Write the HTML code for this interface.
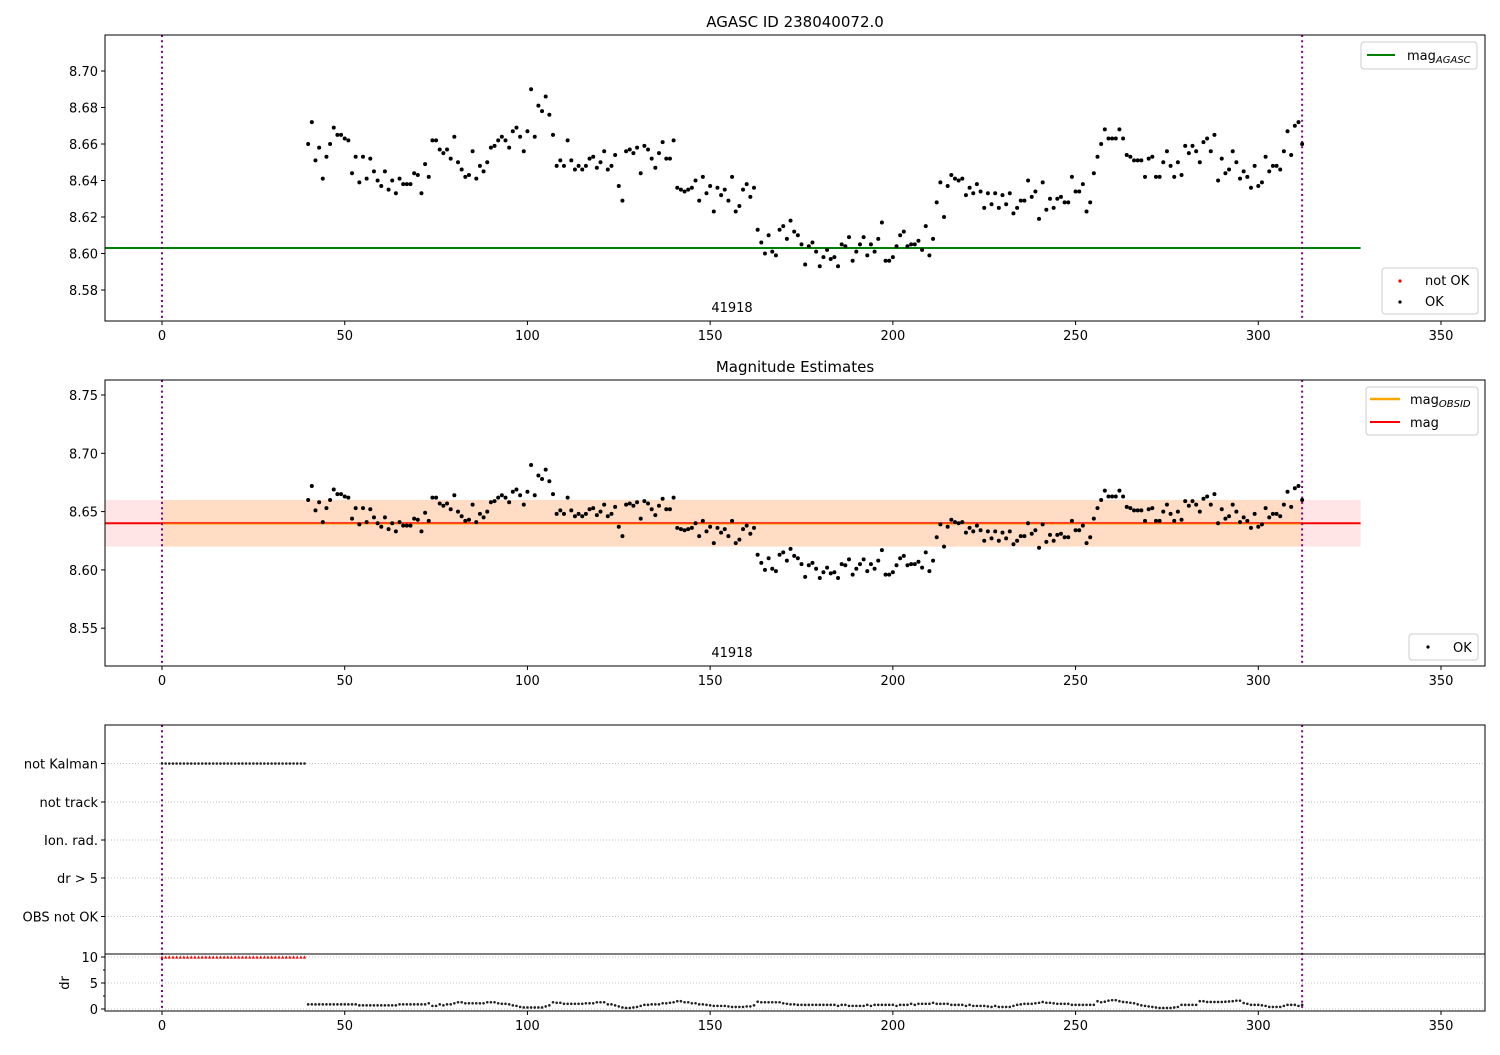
<!DOCTYPE html>
<html><head><meta charset="utf-8"><style>
body{margin:0;background:#fff;}
svg{font-family:"DejaVu Sans","Liberation Sans",sans-serif;}
</style></head><body>
<svg id="c" width="1500" height="1050" xmlns="http://www.w3.org/2000/svg"></svg>
<script>
const xStart = 40;
const mags = [8.660,8.672,8.651,8.658,8.641,8.653,8.660,8.669,8.665,8.665,8.663,8.662,8.644,8.653,8.639,8.653,8.641,8.652,8.645,8.640,8.637,8.645,8.635,8.640,8.633,8.641,8.638,8.638,8.638,8.644,8.643,8.633,8.649,8.642,8.662,8.662,
8.657,8.655,8.657,8.652,8.664,8.650,8.646,8.642,8.643,8.656,8.641,8.648,8.645,8.650,8.658,8.659,8.662,8.664,8.662,8.658,8.667,8.669,8.664,8.656,8.667,8.690,8.664,8.681,8.678,8.686,8.676,8.665,8.648,8.651,8.648,8.662,8.651,8.646,8.648,8.646,8.648,8.652,8.653,8.647,8.650,8.656,8.646,8.648,8.654,8.637,8.629,8.656,8.657,8.655,8.658,8.644,8.659,8.657,8.652,8.647,8.655,8.661,8.652,8.652,8.662,8.636,8.635,8.634,
8.635,8.636,8.640,8.629,8.642,8.633,8.637,8.623,8.636,8.632,8.635,8.629,8.642,8.623,8.626,8.635,8.638,8.631,8.636,8.613,8.606,8.600,8.610,8.601,8.599,8.613,8.615,8.608,8.618,8.612,8.610,8.605,8.594,8.604,8.606,8.601,8.593,8.598,8.602,8.597,8.598,8.593,8.605,8.604,8.609,8.596,8.601,8.605,8.609,8.599,8.605,8.601,8.608,8.617,8.596,8.596,8.598,8.604,8.610,8.612,8.604,8.605,8.605,8.607,8.602,8.615,8.599,8.608,8.628,8.639,8.620,8.637,8.643,8.641,8.640,8.641,8.632,8.636,8.633,8.638,8.634,8.625,8.633,8.627,8.633,8.625,8.632,8.627,8.633,8.622,8.625,8.629,8.629,8.640,8.631,8.634,8.619,8.639,8.624,8.630,8.625,8.630,8.631,8.628,8.628,8.642,8.634,
8.634,8.638,8.623,8.628,8.644,8.653,8.660,8.668,8.663,8.663,8.663,8.668,8.663,8.654,8.653,8.651,8.651,8.651,8.642,8.652,8.653,8.642,8.642,8.650,8.656,8.648,8.642,8.650,8.643,8.659,8.655,8.659,8.656,8.650,8.661,8.663,8.656,8.665,8.640,8.652,8.644,8.646,8.656,8.650,8.641,8.645,8.642,8.636,8.648,8.637,8.639,8.653,8.645,8.648,8.648,8.646,8.656,8.667,8.654,8.670,8.672,8.660];
const drVals = [0.9,0.9,0.9,0.9,0.9,0.9,0.9,0.9,0.9,0.9,0.9,0.9,0.9,0.9,0.7,0.7,0.7,0.7,0.7,0.7,0.7,0.7,0.7,0.7,0.7,0.9,0.9,0.9,0.9,0.9,0.9,0.9,0.9,1.1,0.6,0.6,0.9,0.7,0.9,0.9,
1.1,1.3,1.3,1.1,1.1,1.1,1.1,1.1,1.1,1.3,1.3,1.3,1.1,1.0,1.0,0.9,0.7,0.6,0.4,0.3,0.3,0.3,0.3,0.3,0.3,0.5,0.7,1.3,1.2,1.2,1.0,1.0,1.0,1.0,1.0,1.0,1.1,1.1,1.1,1.3,
1.3,1.3,0.9,0.9,0.7,0.5,0.3,0.2,0.2,0.3,0.4,0.6,0.8,0.8,0.9,0.9,0.9,1.1,1.1,1.2,1.3,1.5,1.5,1.3,1.3,1.1,1.1,0.9,0.9,0.8,0.7,0.6,0.6,0.6,0.6,0.5,0.4,0.4,0.4,0.4,
0.5,0.5,0.7,1.4,1.3,1.3,1.3,1.3,1.3,1.3,1.1,1.0,0.9,0.9,0.8,0.8,0.8,0.8,0.8,0.8,0.8,0.8,0.8,0.8,0.8,0.6,0.8,0.8,0.6,0.6,0.6,0.6,0.6,0.8,0.6,0.8,0.8,0.8,0.8,0.8,
0.8,0.6,0.8,0.8,0.8,1.0,0.8,1.0,1.0,1.0,1.0,1.2,1.0,1.0,1.0,1.0,0.8,0.8,0.8,0.8,0.6,0.8,0.6,0.6,0.6,0.6,0.5,0.4,0.6,0.4,0.4,0.4,0.4,0.6,0.8,0.9,1.0,1.0,1.0,1.1,
1.2,1.35,1.2,1.2,1.1,1.0,1.0,1.0,1.0,0.8,0.8,0.8,0.8,0.8,0.8,0.8,1.5,1.3,1.4,1.6,1.7,1.7,1.5,1.35,1.3,1.2,1.1,0.9,0.7,0.6,0.5,0.4,0.3,0.2,0.2,0.2,0.2,0.3,0.4,0.8,
0.8,0.8,0.8,0.8,1.5,1.5,1.35,1.35,1.35,1.35,1.35,1.4,1.45,1.5,1.6,1.6,1.15,1.0,0.8,0.8,0.8,0.7,0.6,0.4,0.4,0.4,0.4,0.6,0.8,0.8,0.8,0.6,0.8];
const kalmanXs = [0,1,2,3,4,5,6,7,8,9,10,11,12,13,14,15,16,17,18,19,20,21,22,23,24,25,26,27,28,29,30,31,32,33,34,35,36,37,38,39];
const kalmanDr = 10;
const magAgasc = 8.603;
const magObs = 8.640;
const magLo = 8.620, magHi = 8.660;
const obsEnd = 312, lineEnd = 328;
const xTicks = [0,50,100,150,200,250,300,350];
const y1Ticks = [8.58,8.60,8.62,8.64,8.66,8.68,8.70];
const y2Ticks = [8.55,8.60,8.65,8.70,8.75];
const cats = ["not Kalman","not track","Ion. rad.","dr > 5","OBS not OK"];
const drTicks = [0,5,10];

const NS="http://www.w3.org/2000/svg";
const svg=document.getElementById('c');
function el(t,a,p){const e=document.createElementNS(NS,t);for(const k in a)e.setAttribute(k,a[k]);(p||svg).appendChild(e);return e;}
const L=105,R=1485;
const X=v=>162+v*(1441-162)/350;
const Y1=v=>71+(8.70-v)*1825;
const Y2=v=>395+(8.75-v)*1166;
const catY=[763.5,802,840,878,916.5];
const YD=v=>1009-v*5.2;

function frame(t,b){const r=el('rect',{x:L,y:t,width:R-L,height:b-t,fill:'none',stroke:'#000','stroke-width':1});}
function xAxis(b){xTicks.forEach(v=>{el('line',{x1:X(v),x2:X(v),y1:b,y2:b+4,stroke:'#000'});const t=el('text',{x:X(v),y:b+19,'text-anchor':'middle','font-size':13});t.textContent=v;});}
function vlines(t,b){[0,obsEnd].forEach(v=>{const l=el('line',{x1:X(v),x2:X(v),y1:t,y2:b,stroke:'#800080','stroke-width':2,'stroke-dasharray':'2,3.3'});});}
function dots(Y,g){mags.forEach((m,i)=>{const c=el('circle',{cx:X(xStart+i),cy:Y(m),r:2,fill:'#000'},g);});}
function ytick(y,txt,x){el('line',{x1:L-4,x2:L,y1:y,y2:y,stroke:'#000'});const t=el('text',{x:x||L-7,y:y+5,'text-anchor':'end','font-size':13});t.textContent=txt;}
function legendBox(x,y,w,h){const r=el('rect',{x:x,y:y,width:w,height:h,rx:3,fill:'#fff','fill-opacity':0.8,stroke:'#ccc'});}
function txt(x,y,s,size,anchor,name){const t=el('text',{x:x,y:y,'font-size':size,'text-anchor':anchor||'start'});t.innerHTML=s;return t;}

// Panel 1
txt(795,27,'AGASC ID 238040072.0',15,'middle','title-agasc');
y1Ticks.forEach(v=>ytick(Y1(v),v.toFixed(2)));
const g1=el('line',{x1:L,x2:X(lineEnd),y1:Y1(magAgasc),y2:Y1(magAgasc),stroke:'#008000','stroke-width':2});

vlines(35,321);dots(Y1);
txt(732,312,'41918',13,'middle','obsid-label');
frame(35,321);xAxis(321);
legendBox(1361,42,116,27);
el('line',{x1:1367,x2:1395,y1:55,y2:55,stroke:'#008000','stroke-width':2});
txt(1407,60,'mag<tspan font-size="10" font-style="italic" dy="3">AGASC</tspan>',13,'start','legend-mag-agasc');
legendBox(1382,268,96,46);
el('circle',{cx:1400,cy:281,r:1.6,fill:'red'});txt(1425,285,'not OK',13,'start','legend-not-ok');
el('circle',{cx:1400,cy:302,r:1.6,fill:'#000'});txt(1425,306,'OK',13,'start','legend-ok');

// Panel 2
txt(795,372,'Magnitude Estimates',15,'middle','title-mag-estimates');
y2Ticks.forEach(v=>ytick(Y2(v),v.toFixed(2)));
const b1=el('rect',{x:L,y:Y2(magHi),width:X(lineEnd)-L,height:Y2(magLo)-Y2(magHi),fill:'#ff0000','fill-opacity':0.1});

const b2=el('rect',{x:X(0),y:Y2(magHi),width:X(obsEnd)-X(0),height:Y2(magLo)-Y2(magHi),fill:'#ffa500','fill-opacity':0.15});

const l2=el('line',{x1:L,x2:X(lineEnd),y1:Y2(magObs),y2:Y2(magObs),stroke:'#ff0000','stroke-width':2});

const l3=el('line',{x1:X(0),x2:X(obsEnd),y1:Y2(magObs)+0.7,y2:Y2(magObs)+0.7,stroke:'#ffa500','stroke-width':1});

vlines(380,666);dots(Y2);
txt(732,657,'41918',13,'middle','obsid-label-2');
frame(380,666);xAxis(666);
legendBox(1366,387,112,48);
el('line',{x1:1370,x2:1400,y1:399,y2:399,stroke:'#ffa500','stroke-width':2.5});
txt(1410,404,'mag<tspan font-size="10" font-style="italic" dy="3">OBSID</tspan>',13,'start','legend-mag-obsid');
el('line',{x1:1370,x2:1400,y1:422,y2:422,stroke:'#ff0000','stroke-width':2});
txt(1410,427,'mag',13,'start','legend-mag');
legendBox(1409,634,69,26);
el('circle',{cx:1428,cy:647,r:1.6,fill:'#000'});txt(1453,652,'OK',13,'start','legend-ok-2');

// Panel 3
cats.forEach((c,i)=>{el('line',{x1:L,x2:R,y1:catY[i],y2:catY[i],stroke:'#b0b0b0','stroke-width':0.8,'stroke-dasharray':'1,2'});ytick(catY[i],c);});
drTicks.forEach(v=>{el('line',{x1:L,x2:R,y1:YD(v),y2:YD(v),stroke:'#b0b0b0','stroke-width':0.8,'stroke-dasharray':'1,2'});ytick(YD(v),String(v));});
[2.5,7.5].forEach(v=>el('line',{x1:L-2,x2:L,y1:YD(v),y2:YD(v),stroke:'#000'}));
const dl=txt(0,0,'dr',13,'middle','y-axis-title-dr');dl.setAttribute('transform','translate(69,983) rotate(-90)');
vlines(725,1011);
kalmanXs.forEach(v=>{const c=el('circle',{cx:X(v),cy:catY[0],r:1.3,fill:'#222'});
 const y=YD(kalmanDr);const p=el('polygon',{points:`${X(v)-1.6},${y+1.6} ${X(v)+1.6},${y+1.6} ${X(v)},${y-1.6}`,fill:'red'});});
drVals.forEach((d,i)=>{const c=el('circle',{cx:X(xStart+i),cy:YD(d),r:1.3,fill:'#222'});});
frame(725,1011);
el('line',{x1:L,x2:R,y1:954,y2:954,stroke:'#000','stroke-width':1});
xAxis(1011);
</script>
</body></html>
